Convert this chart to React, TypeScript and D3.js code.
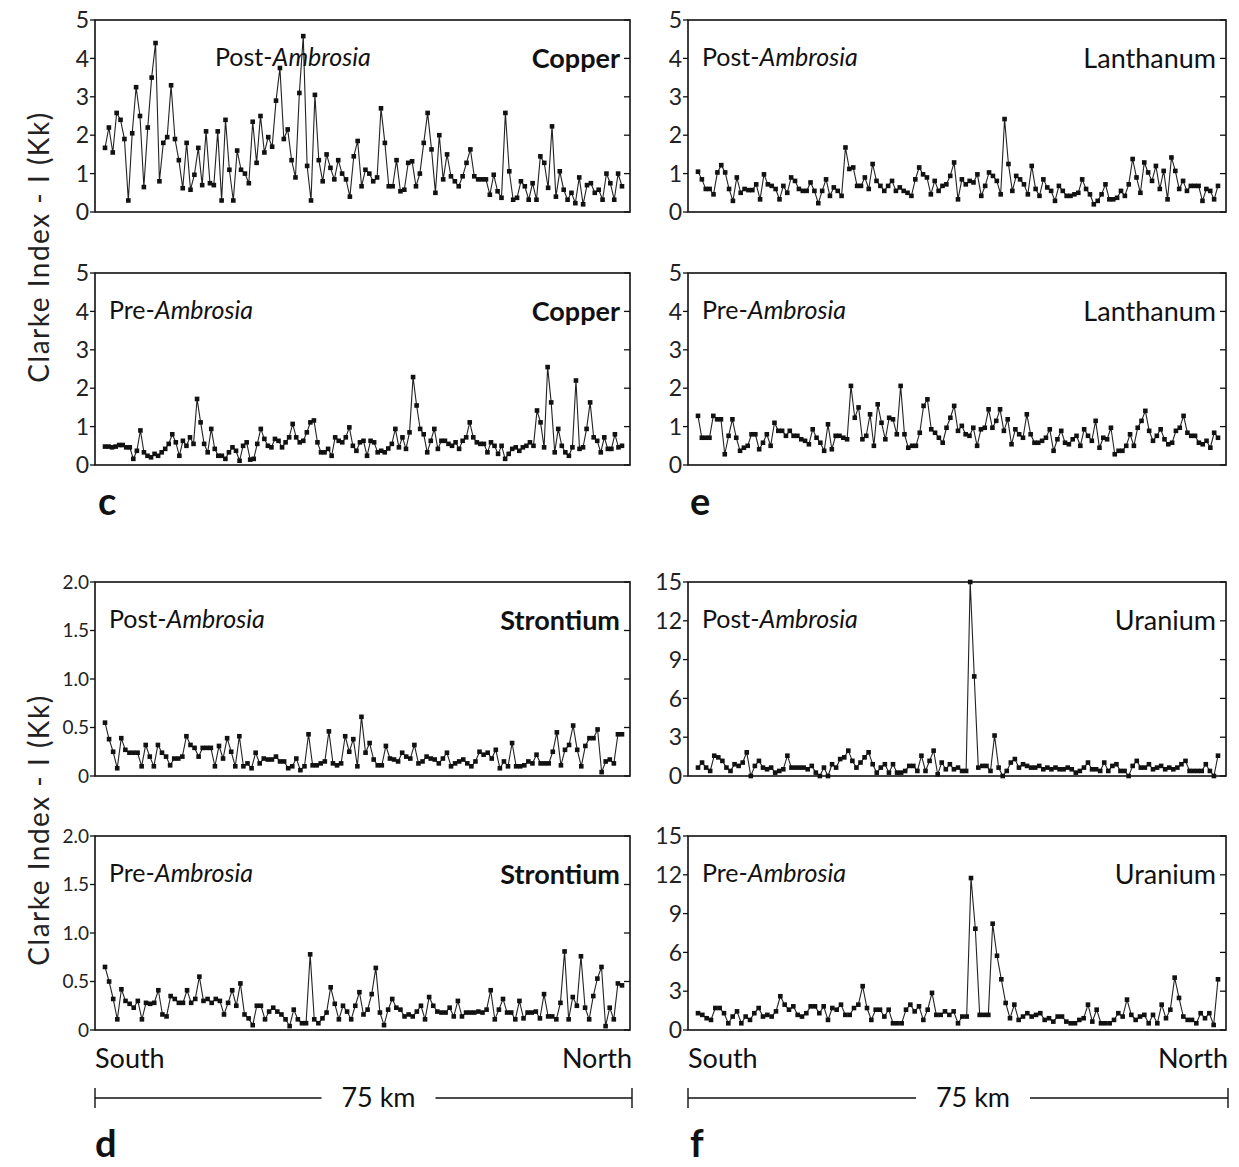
import React from "react";
import * as d3 from "d3";

// Clarke index (Kk) read along the transect, south -> north
const cuPost = [1.67, 2.2, 1.55, 2.58, 2.4, 1.9, 0.3, 2.05, 3.25, 2.5, 0.65, 2.2, 3.5, 4.4, 0.8, 1.8, 1.95, 3.3, 1.9, 1.35,
  0.62, 1.8, 0.58, 0.97, 1.67, 0.7, 2.1, 0.75, 0.7, 2.1, 0.3, 2.4, 1.1, 0.3, 1.6, 1.1, 1.0, 0.75, 2.35, 1.28,
  2.5, 1.55, 1.95, 1.7, 2.9, 3.75, 1.9, 2.15, 1.35, 0.9, 3.1, 4.58, 1.2, 0.3, 3.05, 1.35, 0.8, 1.5, 1.15, 0.85,
  1.35, 1.0, 0.85, 0.4, 1.45, 1.85, 0.67, 1.1, 1.0, 0.8, 0.9, 2.7, 1.8, 0.67, 0.67, 1.35, 0.54, 0.58, 1.28, 1.32,
  0.67, 1.0, 1.8, 2.58, 1.63, 0.5, 2.0, 0.85, 1.5, 0.93, 0.8, 0.67, 0.93, 1.28, 1.63, 0.93, 0.85, 0.85, 0.85, 0.45,
  0.97, 0.54, 0.37, 2.58, 1.06, 0.32, 0.37, 0.8, 0.67, 0.32, 0.75, 0.32, 1.45, 1.28, 0.63, 2.23, 0.4, 1.06, 0.58, 0.32,
  0.5, 0.23, 0.9, 0.2, 0.7, 0.75, 0.5, 0.58, 0.32, 1.0, 0.75, 0.32, 1.0, 0.67];

const cuPre = [0.48, 0.48, 0.46, 0.48, 0.52, 0.52, 0.46, 0.46, 0.16, 0.37, 0.9, 0.33, 0.24, 0.2, 0.29, 0.24, 0.33, 0.42, 0.55, 0.8,
  0.59, 0.24, 0.63, 0.5, 0.72, 0.55, 1.72, 1.11, 0.55, 0.33, 0.94, 0.42, 0.24, 0.24, 0.16, 0.33, 0.46, 0.37, 0.11, 0.5,
  0.59, 0.14, 0.16, 0.55, 0.94, 0.68, 0.5, 0.46, 0.68, 0.63, 0.46, 0.59, 0.72, 1.07, 0.72, 0.59, 0.63, 0.85, 1.11, 1.16,
  0.59, 0.33, 0.33, 0.42, 0.24, 0.72, 0.63, 0.59, 0.72, 0.98, 0.5, 0.37, 0.59, 0.63, 0.24, 0.63, 0.59,
  0.33, 0.37, 0.33, 0.43, 0.55, 0.94, 0.46, 0.72, 0.42, 0.85, 2.29, 1.55, 0.94, 0.8, 0.33, 0.63, 0.94, 0.42, 0.63, 0.63,
  0.55, 0.5, 0.59, 0.42, 0.63, 0.72, 1.11, 0.72, 0.59, 0.55, 0.55, 0.33, 0.59, 0.5, 0.29, 0.5, 0.16, 0.29, 0.42, 0.46,
  0.37, 0.46, 0.5, 0.59, 0.5, 1.42, 1.11, 0.46, 2.55, 1.63, 0.33, 0.94, 0.5, 0.33, 0.24, 0.46, 2.2, 0.42, 0.46, 0.94,
  1.63, 0.72, 0.63, 0.33, 0.72, 0.42, 0.42, 0.8, 0.46, 0.5];

const laPost = [1.05, 0.85, 0.6, 0.6, 0.46, 1.03, 1.22, 1.03, 0.6, 0.29, 0.9, 0.5, 0.6, 0.57, 0.57, 0.72, 0.33, 0.98, 0.72, 0.68,
  0.6, 0.33, 0.68, 0.5, 0.9, 0.81, 0.6, 0.55, 0.55, 0.77, 0.55, 0.23, 0.55, 0.85, 0.42, 0.64, 0.55, 0.42, 1.68, 1.12,
  1.16, 0.68, 0.68, 0.9, 0.6, 1.25, 0.81, 0.68, 0.55, 0.68, 0.81, 0.55, 0.64, 0.55, 0.5, 0.42, 0.85, 1.16, 0.98, 0.9,
  0.46, 0.81, 0.55, 0.68, 0.72, 0.94, 1.29, 0.33, 0.85,
  0.72, 0.81, 0.77, 0.98, 0.42, 0.68, 1.03, 0.94, 0.81, 0.46, 2.42, 1.25, 0.55, 0.94, 0.85, 0.72, 0.46, 1.2, 0.6, 0.42,
  0.85, 0.64, 0.55, 0.29, 0.68, 0.55, 0.42, 0.42, 0.46, 0.5, 0.85, 0.6, 0.46, 0.2, 0.29, 0.46, 0.72, 0.33, 0.33, 0.37,
  0.55, 0.42, 0.72, 1.38, 0.9, 0.5, 1.29, 1.03, 0.81, 1.2, 0.6, 1.07, 0.33, 1.42, 1.07, 0.6, 0.81, 0.55, 0.68, 0.68,
  0.68, 0.29, 0.6, 0.55, 0.33, 0.68];

const laPre = [1.28, 0.71, 0.71, 0.71, 1.28, 1.19, 1.19, 0.28, 0.76, 1.19, 0.71, 0.37, 0.45, 0.5, 0.8, 0.8, 0.41, 0.58, 0.8, 0.5,
  1.1, 0.89, 0.89, 0.76, 0.89, 0.76, 0.76, 0.67, 0.63, 0.54, 0.93, 0.71, 0.58, 0.37, 1.06, 0.41, 0.76, 0.76, 0.71, 0.67,
  2.06, 1.23, 1.5, 0.67, 0.76, 1.32, 0.5, 1.58, 1.1, 0.67, 1.23, 1.19, 0.8, 2.06, 0.8, 0.45, 0.5, 0.5, 0.84, 1.54,
  1.71, 0.93, 0.84, 0.71, 0.58, 0.97, 1.23, 1.54, 0.89,
  1.02, 0.8, 0.76, 0.97, 0.5, 0.93, 0.97, 1.45, 0.97, 1.15, 1.45, 0.89, 1.19, 0.54, 0.93, 0.8, 0.71, 1.32, 0.8, 0.58,
  0.58, 0.63, 0.71, 0.93, 0.37, 0.67, 0.89, 0.58, 0.54, 0.67, 0.76, 0.5, 0.93, 0.76, 0.63, 1.15, 0.45, 0.71, 0.67, 0.97,
  0.28, 0.37, 0.37, 0.5, 0.8, 0.5, 0.97, 1.15, 1.41, 0.89, 0.63, 0.76, 0.93, 0.67, 0.54, 0.58, 0.89, 0.97, 1.28, 0.84,
  0.76, 0.76, 0.58, 0.54, 0.63, 0.45, 0.84, 0.71];

const srPost = [0.55, 0.38, 0.25, 0.08, 0.39, 0.27, 0.24, 0.24, 0.24, 0.1, 0.32, 0.2, 0.1, 0.32, 0.24, 0.2, 0.11, 0.18, 0.18, 0.2,
  0.41, 0.32, 0.29, 0.2, 0.29, 0.29, 0.29, 0.1, 0.31, 0.18, 0.39, 0.25, 0.1, 0.41, 0.1, 0.13, 0.08, 0.24, 0.13, 0.18,
  0.17, 0.17, 0.2, 0.15, 0.15, 0.08, 0.1, 0.18, 0.06, 0.1, 0.43, 0.11, 0.11, 0.13, 0.15, 0.46, 0.13, 0.11, 0.13, 0.41,
  0.25, 0.38, 0.1, 0.61, 0.24, 0.34, 0.17, 0.11, 0.11, 0.31, 0.18, 0.17, 0.15, 0.24, 0.2, 0.18, 0.32, 0.13, 0.15, 0.2,
  0.18, 0.17, 0.13, 0.18, 0.24, 0.1, 0.13, 0.15, 0.17, 0.13, 0.1, 0.15, 0.25, 0.22, 0.24, 0.18, 0.27, 0.08, 0.15, 0.1,
  0.34, 0.1, 0.1, 0.11, 0.15, 0.13, 0.22, 0.13, 0.13, 0.13, 0.25, 0.45, 0.11, 0.27, 0.32, 0.52, 0.27, 0.1, 0.31, 0.39,
  0.39, 0.48, 0.04, 0.15, 0.17, 0.13, 0.43, 0.43];

const srPre = [0.65, 0.5, 0.32, 0.11, 0.42, 0.3, 0.27, 0.23, 0.3, 0.11, 0.28, 0.27, 0.28, 0.41, 0.16, 0.14, 0.35, 0.32, 0.28, 0.28,
  0.41, 0.28, 0.32, 0.55, 0.3, 0.32, 0.28, 0.32, 0.3, 0.16, 0.28, 0.41, 0.25, 0.48, 0.16, 0.12, 0.05, 0.25, 0.25, 0.11,
  0.19, 0.23, 0.19, 0.16, 0.11, 0.04, 0.21, 0.11, 0.07, 0.07, 0.78, 0.11, 0.07, 0.12, 0.18, 0.44, 0.27, 0.11, 0.25, 0.19,
  0.11, 0.25, 0.39, 0.16, 0.21, 0.37, 0.64, 0.18, 0.05, 0.21, 0.32, 0.23, 0.21, 0.14, 0.16, 0.14, 0.19, 0.25, 0.11, 0.34,
  0.25, 0.19, 0.18, 0.18, 0.23, 0.14, 0.3, 0.14, 0.18, 0.18, 0.18, 0.19, 0.18, 0.21, 0.41, 0.11, 0.21, 0.32, 0.18, 0.18,
  0.11, 0.3, 0.12, 0.18, 0.18, 0.19, 0.12, 0.37, 0.14, 0.14, 0.11, 0.28, 0.81, 0.11, 0.34, 0.25, 0.76, 0.23, 0.11, 0.35,
  0.53, 0.65, 0.04, 0.23, 0.11, 0.48, 0.46];

const uPost = [0.65, 1.04, 0.65, 0.39, 1.57, 1.44, 1.17, 0.65, 0.39, 0.91, 0.78, 1.04, 1.83, 0, 0.78, 1.17, 0.65, 0.52, 0.65, 0.26,
  0.39, 0.52, 1.57, 0.65, 0.65, 0.65, 0.65, 0.52, 0.78, 0.26, 0, 0.65, 0, 0.91, 0.65, 1.31, 1.44, 1.96, 1.17, 0.65,
  1.04, 1.44, 1.83, 0.91, 0.26, 0.65, 0.91, 0.26, 0.91, 0.26, 0.26, 0.39, 0.78, 0.78, 0.39, 1.57, 0.39, 1.17, 1.96, 0.13,
  1.04, 0.52, 0.91, 0.52, 0.65, 0.39, 0.39, 15, 7.7, 0.65, 0.78, 0.78, 0.39, 3.13, 0.65, 0, 0.39, 1.04,
  1.31, 0.65, 0.91, 0.78, 0.65, 0.65, 0.78, 0.52, 0.65, 0.52, 0.65, 0.52, 0.52, 0.65, 0.52, 0.26, 0.39, 0.65, 1.04, 0.52,
  0.52, 0.39, 1.04, 0.39, 0.78, 0.91, 0.39, 0.39, 0, 0.78, 1.17, 0.65, 0.65, 0.91, 0.52, 0.65, 0.78, 0.52, 0.65, 0.52,
  0.65, 0.91, 1.17, 0.39, 0.39, 0.39, 0.39, 0.91, 0.39, 0, 1.57];

const uPre = [1.3, 1.17, 0.91, 0.78, 1.7, 1.7, 1.3, 0.52, 1.04, 1.44, 0.52, 1.04, 0.78, 1.3, 1.7, 1.04, 1.17, 1.04, 1.44, 2.61,
  1.96, 1.57, 1.83, 1.17, 1.04, 1.3, 1.83, 1.83, 1.3, 1.83, 0.78, 1.7, 1.57, 1.96, 1.17, 1.17, 1.7, 1.96, 3.39, 1.7,
  0.78, 1.57, 1.57, 1.04, 1.57, 0.52, 0.52, 0.52, 1.57, 1.96, 1.44, 1.83, 0.78, 1.57, 2.87, 1.17, 1.17, 1.44, 1.17, 1.44,
  0.52, 1.04, 1.04, 11.75, 7.83, 1.17, 1.17, 1.17, 8.22, 5.74, 3.92, 2.09, 0.91, 1.96, 0.78, 1.04, 1.3, 1.04, 1.17, 1.3,
  0.78, 0.91, 0.65, 1.04, 1.04, 0.65, 0.52, 0.52, 0.78, 0.91, 1.96, 0.65, 1.57, 0.52, 0.52, 0.52, 0.78, 1.3, 1.04, 2.35,
  1.17, 0.78, 1.04, 1.17, 0.52, 1.17, 0.52, 1.96, 0.91, 1.57, 4.05, 2.48, 1.04, 0.78, 0.78, 0.52, 1.3, 0.91, 1.3, 0.39,
  3.92];

const kkTicks = [0, 1, 2, 3, 4, 5];
const srTicks = [0, 0.5, 1, 1.5, 2];
const uTicks = [0, 3, 6, 9, 12, 15];

// layout
const cols = [{ x0: 95, x1: 630 }, { x0: 688, x1: 1226 }];
const rows = [{ top: 20, bottom: 212 }, { top: 273, bottom: 465 }, { top: 582, bottom: 776 }, { top: 836, bottom: 1030 }];
const FONT = "Lato, 'Liberation Sans', sans-serif";

const panels = [
  { col: 0, row: 0, phase: "Post-", element: "Copper", values: cuPost, ticks: kkTicks, heavy: true, labelX: 215 },
  { col: 0, row: 1, phase: "Pre-", element: "Copper", values: cuPre, ticks: kkTicks, heavy: true },
  { col: 1, row: 0, phase: "Post-", element: "Lanthanum", values: laPost, ticks: kkTicks },
  { col: 1, row: 1, phase: "Pre-", element: "Lanthanum", values: laPre, ticks: kkTicks },
  { col: 0, row: 2, phase: "Post-", element: "Strontium", values: srPost, ticks: srTicks, heavy: true, decimals: true },
  { col: 0, row: 3, phase: "Pre-", element: "Strontium", values: srPre, ticks: srTicks, heavy: true, decimals: true },
  { col: 1, row: 2, phase: "Post-", element: "Uranium", values: uPost, ticks: uTicks },
  { col: 1, row: 3, phase: "Pre-", element: "Uranium", values: uPre, ticks: uTicks },
];

function Panel({ p }: { p: any }) {
  const { x0, x1 } = cols[p.col];
  const { top, bottom } = rows[p.row];
  const yMax = p.ticks[p.ticks.length - 1];

  const x = d3.scaleLinear().domain([0, p.values.length - 1]).range([x0 + 10, x1 - 8]);
  const y = d3.scaleLinear().domain([0, yMax]).range([bottom, top]);
  const line = d3.line<number>().x((d, i) => x(i)).y(d => y(d));
  const fmt = (t: number) => (t === 0 ? "0" : p.decimals ? d3.format(".1f")(t) : String(t));

  return (
    <g>
      <rect x={x0} y={top} width={x1 - x0} height={bottom - top} fill="none" stroke="#111" strokeWidth={1.6} />
      {p.ticks.map((t: number) => (
        <g key={t}>
          <line x1={x0 - 5} x2={x0} y1={y(t)} y2={y(t)} stroke="#111" strokeWidth={1.3} />
          <line x1={x1 - 6} x2={x1} y1={y(t)} y2={y(t)} stroke="#111" strokeWidth={1.3} />
          <text x={x0 - 6} y={y(t)} dy="0.36em" textAnchor="end" fontSize={p.decimals ? 19 : 23} fill="#222">{fmt(t)}</text>
        </g>
      ))}
      <path d={line(p.values) || ""} fill="none" stroke="#222" strokeWidth={1.1} />
      {p.values.map((v: number, i: number) => (
        <rect key={i} x={x(i) - 2.3} y={y(v) - 2.3} width={4.6} height={4.6} fill="#111" />
      ))}
      <text x={p.labelX ?? x0 + 14} y={top + 46} fontSize={25} fill="#111">
        {p.phase}<tspan fontStyle="italic">Ambrosia</tspan>
      </text>
      <text x={x1 - 10} y={top + 48} textAnchor="end" fontSize={27} fontWeight={p.heavy ? 700 : 400} fill="#111">
        {p.element}
      </text>
    </g>
  );
}

function ScaleBar({ x0, x1 }: { x0: number; x1: number }) {
  const yb = 1098;
  const mid = (x0 + x1) / 2 + 15;
  return (
    <g stroke="#111" strokeWidth={1.4}>
      <line x1={x0} x2={mid - 57} y1={yb} y2={yb} />
      <line x1={mid + 57} x2={x1} y1={yb} y2={yb} />
      <line x1={x0} x2={x0} y1={yb - 10} y2={yb + 10} />
      <line x1={x1} x2={x1} y1={yb - 10} y2={yb + 10} />
      <text x={mid} y={yb} dy="0.35em" textAnchor="middle" fontSize={27} stroke="none" fill="#111">75  km</text>
    </g>
  );
}

export default function App() {
  return (
    <svg width={1239} height={1167} style={{ position: "absolute", left: 0, top: 0, background: "#fff" }}
      fontFamily={FONT}>
      {panels.map((p, i) => <Panel key={i} p={p} />)}

      {/* shared y-axis titles */}
      <text transform="translate(49,247) rotate(-90)" textAnchor="middle" fontSize={28} letterSpacing={1.5} fill="#222">Clarke  Index - I (Kk)</text>
      <text transform="translate(49,830) rotate(-90)" textAnchor="middle" fontSize={28} letterSpacing={1.5} fill="#222">Clarke  Index - I (Kk)</text>

      {/* panel letters */}
      <text x={98} y={515} fontSize={38} fontWeight={700} fill="#111">c</text>
      <text x={690} y={515} fontSize={38} fontWeight={700} fill="#111">e</text>
      <text x={95} y={1157} fontSize={38} fontWeight={700} fill="#111">d</text>
      <text x={690} y={1157} fontSize={38} fontWeight={700} fill="#111">f</text>

      {/* transect ends */}
      {cols.map((c, i) => (
        <g key={i} fontSize={27} fill="#111">
          <text x={c.x0} y={1068}>South</text>
          <text x={c.x1 + 2} y={1068} textAnchor="end">North</text>
          <ScaleBar x0={c.x0} x1={c.x1 + 2} />
        </g>
      ))}
    </svg>
  );
}
